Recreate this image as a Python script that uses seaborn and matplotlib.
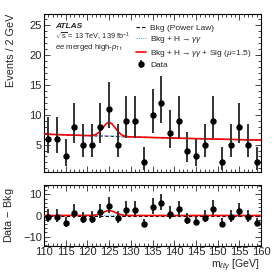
import math
import numpy as np
import pandas as pd
import seaborn as sns
import matplotlib
matplotlib.use("Agg")
import matplotlib.pyplot as plt
from matplotlib.ticker import MultipleLocator
from matplotlib.lines import Line2D

# ---- data ----
bin_centers = [111, 113, 115, 117, 119, 121, 123, 125, 127, 129, 131, 133, 135,
               137, 139, 141, 143, 145, 147, 149, 151, 153, 155, 157, 159]
data_counts = [6, 6, 3, 8, 5, 5, 8, 11, 5, 9, 9, 2, 10,
               12, 7, 9, 4, 3, 5, 9, 2, 5, 8, 5, 2]
# background power-law model (value at 110 GeV, exponent)
bkg_norm = 6.75
bkg_power = 0.43
# signal (Gaussian) parameters
sig_mass = 125.0
sig_width = 1.45
sig_amp = 2.3
higgs_amp = 0.08
x_ticks = [110, 115, 120, 125, 130, 135, 140, 145, 150, 155, 160]

sns.set_style("ticks")
plt.rcParams['font.family'] = ['Liberation Sans', 'DejaVu Sans']
plt.rcParams['mathtext.fontset'] = 'custom'
plt.rcParams['mathtext.rm'] = 'Liberation Sans'
plt.rcParams['mathtext.it'] = 'Liberation Sans:italic'
plt.rcParams['mathtext.bf'] = 'Liberation Sans:bold'


def poisson_cdf(k, lam):
    if k < 0:
        return 0.0
    term = math.exp(-lam)
    s = term
    for i in range(1, k + 1):
        term *= lam / i
        s += term
    return s


def garwood(n):
    a = 0.158655
    if n == 0:
        lower = 0.0
    else:
        l, h = 0.0, float(n)
        for _ in range(80):
            m = 0.5 * (l + h)
            if 1 - poisson_cdf(n - 1, m) < a:
                l = m
            else:
                h = m
        lower = 0.5 * (l + h)
    l, h = float(n), n + 50.0
    for _ in range(80):
        m = 0.5 * (l + h)
        if poisson_cdf(n, m) > a:
            l = m
        else:
            h = m
    upper = 0.5 * (l + h)
    return n - lower, upper - n


errs = np.array([garwood(n) for n in data_counts]).T

mgrid = np.linspace(110, 160, 501)
bkg = bkg_norm * (mgrid / 110.0) ** (-bkg_power)
gauss = np.exp(-0.5 * ((mgrid - sig_mass) / sig_width) ** 2)
bkg_h = bkg + higgs_amp * gauss
bkg_h_sig = bkg + sig_amp * gauss
curves = pd.DataFrame({"m": mgrid, "bkg": bkg, "bkgh": bkg_h, "full": bkg_h_sig})

bkg_at_data = bkg_norm * (np.array(bin_centers) / 110.0) ** (-bkg_power)
resid = np.array(data_counts) - bkg_at_data

fig = plt.figure(figsize=(2.74, 2.74), dpi=100)
ax = fig.add_axes([0.1606, 0.3723, 0.792, 0.5766])
axr = fig.add_axes([0.1606, 0.1022, 0.792, 0.2226])

red = "#ff0000"
blue = "#6fa8ff"

# main panel
sns.lineplot(data=curves, x="m", y="bkg", ax=ax, color="black", lw=0.8,
             linestyle=(0, (3, 2)), zorder=2)
sns.lineplot(data=curves, x="m", y="bkgh", ax=ax, color=blue, lw=0.8,
             linestyle=(0, (1, 1)), zorder=2)
sns.lineplot(data=curves, x="m", y="full", ax=ax, color=red, lw=1.2, zorder=3)
ax.errorbar(bin_centers, data_counts, yerr=errs, fmt="o", color="black",
            ecolor="#333333", elinewidth=1.4, markersize=3.6, capsize=0, zorder=4)

ax.set_xlim(110, 160)
ax.set_ylim(0.4, 26.9)
ax.xaxis.set_major_locator(MultipleLocator(5))
ax.xaxis.set_minor_locator(MultipleLocator(1))
ax.yaxis.set_major_locator(MultipleLocator(5))
ax.yaxis.set_minor_locator(MultipleLocator(1))
ax.set_xticklabels([])
ax.set_xlabel("")
ax.set_ylabel("Events / 2 GeV", fontsize=7.8, loc="top")

# ratio panel
sns.lineplot(x=mgrid, y=bkg - bkg, ax=axr, color="black", lw=0.8,
             linestyle=(0, (3, 2)), zorder=2)
sns.lineplot(x=mgrid, y=bkg_h - bkg, ax=axr, color=blue, lw=0.8,
             linestyle=(0, (1, 1)), zorder=2)
sns.lineplot(x=mgrid, y=bkg_h_sig - bkg, ax=axr, color=red, lw=1.2, zorder=3)
axr.errorbar(bin_centers, resid, yerr=errs, fmt="o", color="black",
             ecolor="#333333", elinewidth=1.4, markersize=3.6, capsize=0, zorder=4)
axr.set_xlim(110, 160)
axr.set_ylim(-14.5, 14.5)
axr.xaxis.set_major_locator(MultipleLocator(5))
axr.xaxis.set_minor_locator(MultipleLocator(1))
axr.yaxis.set_major_locator(MultipleLocator(10))
axr.yaxis.set_minor_locator(MultipleLocator(2))
axr.set_xticks(x_ticks)
axr.set_xticklabels([str(t) for t in x_ticks])
axr.set_ylabel("Data $-$ Bkg", fontsize=7.8)
axr.set_xlabel(r"m$_{\ell\ell\gamma}$ [GeV]", fontsize=7.6, loc="right")

for a in (ax, axr):
    a.tick_params(which="both", direction="in", top=True, right=True,
                  labelsize=8, pad=1.5)
    a.tick_params(which="major", length=4, width=0.6)
    a.tick_params(which="minor", length=2, width=0.6)
    for s in a.spines.values():
        s.set_linewidth(0.8)
        s.set_color("black")
axr.tick_params(axis="x", pad=1)

ax.yaxis.set_label_coords(-0.13, 1.0)
axr.yaxis.set_label_coords(-0.13, 0.5)
axr.xaxis.set_label_coords(0.995, -0.19)

# annotations
ax.text(0.05, 0.92, "ATLAS", transform=ax.transAxes, fontsize=6,
        fontweight="bold", style="italic", va="center")
ax.text(0.05, 0.855, r"$\sqrt{\mathrm{s}}$ = 13 TeV, 139 fb$^{-1}$",
        transform=ax.transAxes, fontsize=5.3, va="center")
ax.text(0.05, 0.785, r"$ee$ merged high-$p_{\mathrm{Tt}}$",
        transform=ax.transAxes, fontsize=5.6, va="center")

handles = [
    Line2D([], [], color="black", lw=0.8, linestyle=(0, (3, 2))),
    Line2D([], [], color=blue, lw=0.8, linestyle=(0, (1, 1))),
    Line2D([], [], color=red, lw=1.2),
    ax.errorbar([], [], yerr=[], fmt="o", color="black", ecolor="#333333",
                elinewidth=1.3, markersize=3.6),
]
labels = ["Bkg (Power Law)", r"Bkg + H$\rightarrow\gamma\gamma$",
          r"Bkg + H$\rightarrow\gamma\gamma$ + Sig ($\mu$=1.5)", "Data"]
ax.legend(handles, labels, loc="upper left", bbox_to_anchor=(0.40, 0.97),
          frameon=False, fontsize=6.0, handlelength=1.2, handletextpad=0.5,
          labelspacing=0.3, borderaxespad=0.2)

fig.savefig("out.png", dpi=100)
